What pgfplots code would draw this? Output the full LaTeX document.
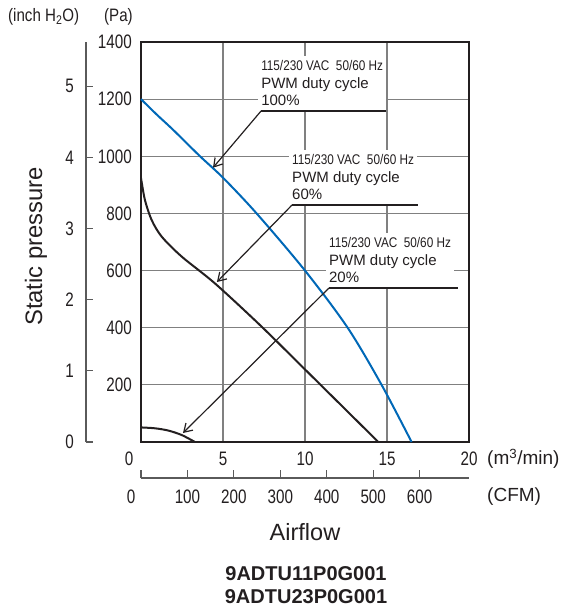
\documentclass[border=0pt]{standalone}
\usepackage{fontspec}
\setmainfont{Liberation Sans}
\newfontfamily\cond[FakeStretch=0.84]{Liberation Sans}
\newfontfamily\condt[FakeStretch=0.78]{Liberation Sans}
\usepackage{pgfplots}
\pgfplotsset{compat=1.18}
\usetikzlibrary{arrows.meta}
\definecolor{fanblue}{RGB}{0,104,183}
\definecolor{frame}{RGB}{35,31,32}
\definecolor{gridgray}{RGB}{128,128,128}
\definecolor{axgray}{RGB}{90,90,90}

\newcommand{\tickfont}{\condt\fontsize{19.5}{19.5}\selectfont}

\begin{document}
\begin{tikzpicture}
\useasboundingbox (0pt,0pt) rectangle (566pt,-616pt);

% main chart, Pa against m3/min
\begin{axis}[
  at={(141pt,-442pt)}, anchor=south west,
  scale only axis, width=328pt, height=400pt,
  xmin=0, xmax=20, ymin=0, ymax=1400,
  xtick={5,10,15,20}, ytick={200,400,...,1400},
  grid=major, major grid style={gridgray, line width=1.1pt},
  axis line style={frame, line width=2pt},
  major tick length=0pt,
  /pgf/number format/assume math mode=true,
  /pgf/number format/1000 sep={},
  ticklabel style={font=\tickfont, text=frame},
  xticklabel style={anchor=center, inner sep=0pt, yshift=-17pt},
  yticklabel style={anchor=east, inner sep=0pt, xshift=-9pt},
  clip=false,
]
% 100 %
\addplot[fanblue, line width=2pt, smooth, no marks] coordinates {
  (0,1200) (0.96,1146) (1.97,1092) (3.6,1000) (5,925)
  (7.05,800) (10,600) (12.6,400) (14.67,200) (16.5,0)};
% 60 %
\addplot[frame, line width=2pt, smooth, no marks] coordinates {
  (0,924) (0.24,847) (0.65,777) (1.26,719) (2.48,649) (4.51,555)
  (7.26,409) (10,254) (14.47,0)};
% 20 %
\addplot[frame, line width=2pt, smooth, no marks] coordinates {
  (0,51) (0.85,48) (1.67,40) (2.48,24.5) (3.29,0)};

\node[anchor=south west, fill=white, inner xsep=3pt, inner ysep=5pt, xshift=-3pt,
      align=left, font=\fontsize{15}{17.5}\selectfont, text=frame]
  at (axis cs:7.32,1158.5)
  {{\cond\fontsize{14}{17.5}\selectfont 115/230 VAC\ \ 50/60 Hz}\\PWM duty cycle\\100\%};
\node[anchor=south west, fill=white, inner xsep=3pt, inner ysep=5pt, xshift=-3pt,
      align=left, font=\fontsize{15}{17.5}\selectfont, text=frame]
  at (axis cs:9.21,829.5)
  {{\cond\fontsize{14}{17.5}\selectfont 115/230 VAC\ \ 50/60 Hz}\\PWM duty cycle\\60\%};
\node[anchor=south west, fill=white, inner xsep=3pt, inner ysep=5pt, xshift=-3pt,
      align=left, font=\fontsize{15}{17.5}\selectfont, text=frame]
  at (axis cs:11.46,539)
  {{\cond\fontsize{14}{17.5}\selectfont 115/230 VAC\ \ 50/60 Hz}\\PWM duty cycle\\20\%};

\draw[frame, line width=1.2pt] (axis cs:7.32,1158.5) -- (axis cs:14.95,1158.5);
\draw[frame, line width=1.2pt] (axis cs:9.21,829.5) -- (axis cs:16.89,829.5);
\draw[frame, line width=1.2pt] (axis cs:11.46,539) -- (axis cs:19.3,539);
\draw[frame, line width=1.2pt, -{Straight Barb[length=8pt,width=10pt]}]
  (axis cs:7.32,1158.5) -- (axis cs:4.39,960);
\draw[frame, line width=1.2pt, -{Straight Barb[length=8pt,width=10pt]}]
  (axis cs:9.21,829.5) -- (axis cs:4.63,560);
\draw[frame, line width=1.2pt, -{Straight Barb[length=8pt,width=10pt]}]
  (axis cs:11.46,539) -- (axis cs:2.56,31.5);
\end{axis}

% inch H2O scale on the far left
\begin{axis}[
  at={(86pt,-442pt)}, anchor=south west,
  scale only axis, width=328pt, height=400pt,
  xmin=0, xmax=1, ymin=0, ymax=5.6205,
  hide x axis, axis y line*=left,
  axis line style={-, axgray, line width=1.2pt},
  ytick={0,1,...,5},
  tick align=inside, major tick length=7pt,
  tick style={axgray, line width=1.2pt},
  /pgf/number format/assume math mode=true,
  ticklabel style={font=\tickfont, text=frame},
  yticklabel style={anchor=east, inner sep=0pt, xshift=-12pt},
]
\addplot[draw=none] coordinates {(0,0)};
\end{axis}

% CFM scale under the chart
\begin{axis}[
  at={(141pt,-478pt)}, anchor=south west,
  scale only axis, width=328pt, height=10pt,
  xmin=0, xmax=706.29, ymin=0, ymax=1,
  hide y axis, axis x line*=bottom,
  axis line style={-, axgray, line width=1.2pt},
  xtick={0,100,...,600}, xticklabels={,100,200,300,400,500,600},
  tick align=inside, major tick length=8pt,
  tick style={axgray, line width=1.2pt},
  ticklabel style={font=\tickfont, text=frame},
  xticklabel style={anchor=center, inner sep=0pt, yshift=-19pt},
]
\addplot[draw=none] coordinates {(0,0)};
\end{axis}

\begin{scope}[every node/.style={text=frame, inner sep=0pt}]
\node[font=\tickfont] at (129pt,-459pt) {0};
\node[font=\tickfont] at (131pt,-497pt) {0};
\node[font=\fontsize{19}{19}\selectfont, anchor=west] at (487pt,-459pt) {(m\textsuperscript{3}/min)};
\node[font=\fontsize{19}{19}\selectfont, anchor=west] at (487pt,-497pt) {(CFM)};
\node[font=\cond\fontsize{18}{18}\selectfont, anchor=west] at (8pt,-17pt) {(inch H\textsubscript{2}O)};
\node[font=\cond\fontsize{18}{18}\selectfont, anchor=west] at (104pt,-17pt) {(Pa)};
\node[font=\fontsize{23.8}{23.8}\selectfont, rotate=90, anchor=base] at (42pt,-246.5pt) {Static pressure};
\node[font=\fontsize{23.5}{23.5}\selectfont] at (305pt,-532pt) {Airflow};
\node[font=\bfseries\fontsize{20}{20}\selectfont] at (306pt,-574pt) {9ADTU11P0G001};
\node[font=\bfseries\fontsize{20}{20}\selectfont] at (306pt,-597pt) {9ADTU23P0G001};
\end{scope}
\end{tikzpicture}
\end{document}
